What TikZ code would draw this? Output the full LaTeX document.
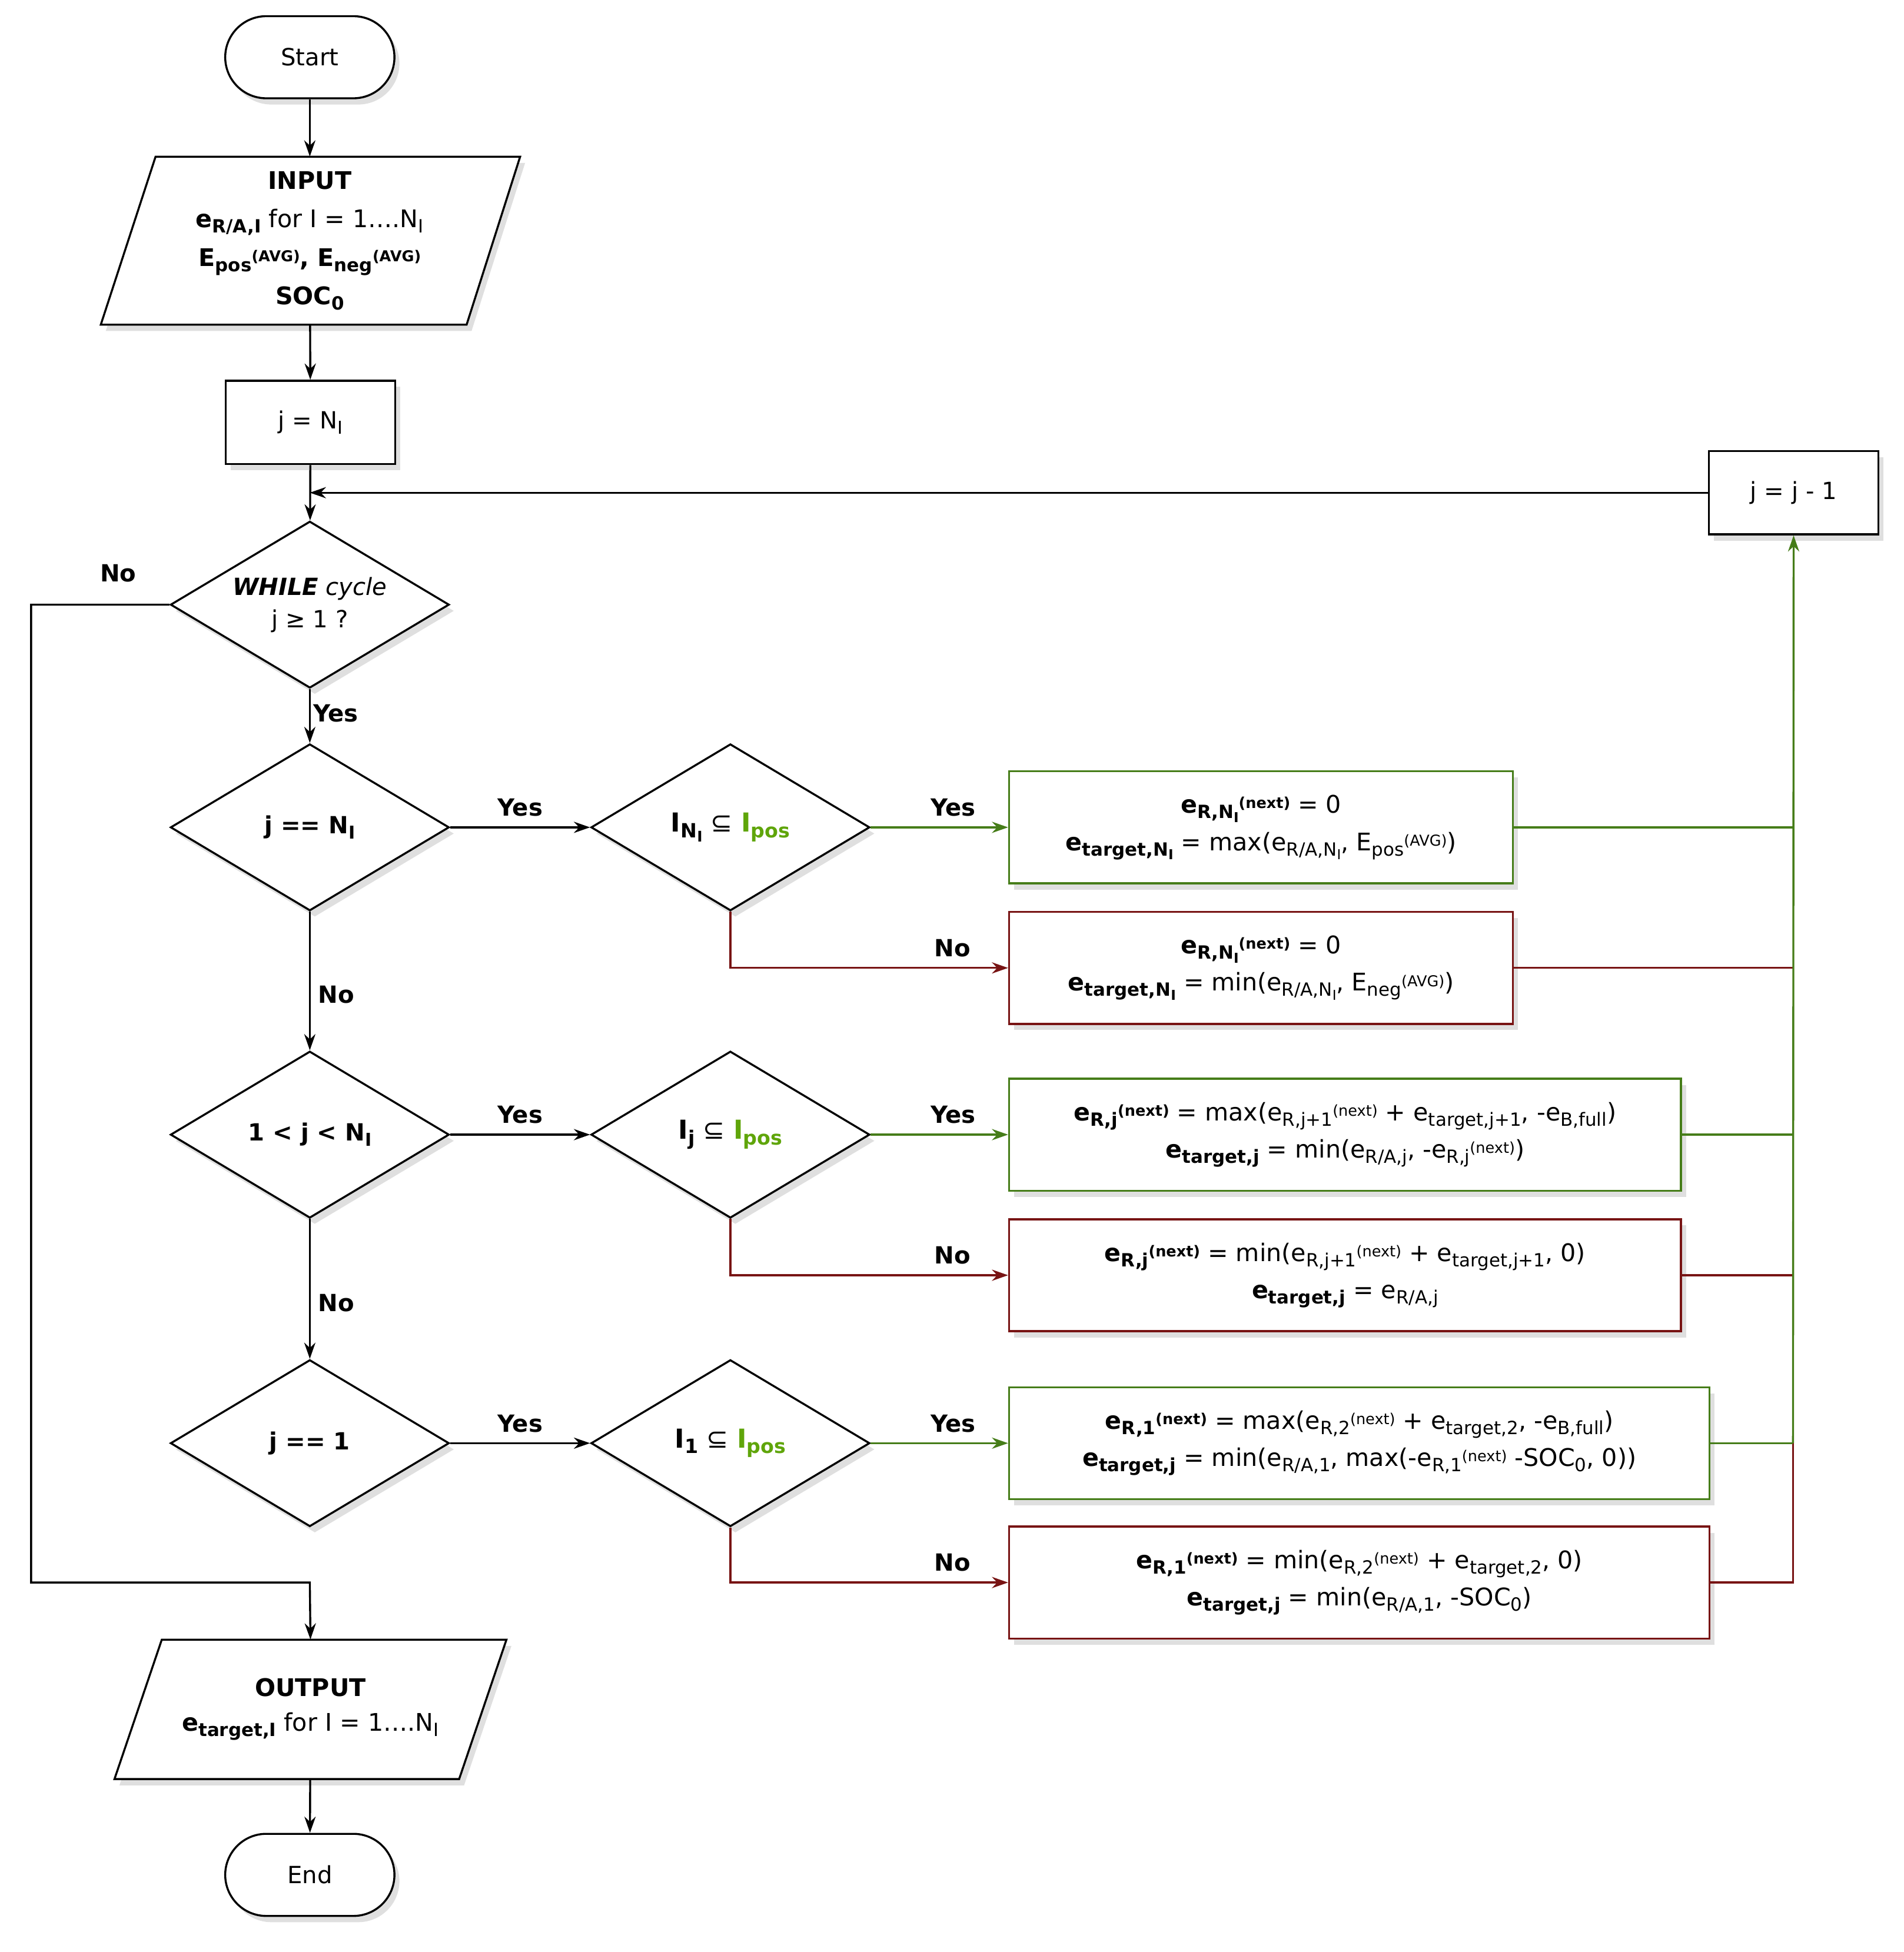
\documentclass[tikz,border=0pt]{standalone}
\usepackage{fontspec}
\setmainfont{DejaVu Sans}
\usetikzlibrary{shapes.geometric,arrows.meta,shadows}
\definecolor{gr}{RGB}{70,125,25}
\definecolor{rd}{RGB}{120,20,20}
\definecolor{lg}{RGB}{95,165,10}
\newcommand\lo[1]{\raisebox{-0.4ex}{\scalebox{0.75}{#1}}}
\newcommand\hi[1]{\raisebox{0.35ex}{\scalebox{0.62}{#1}}}
\begin{document}
\begin{tikzpicture}[x=1pt,y=1pt,
  font=\fontsize{19}{24}\selectfont,
  ln/.style={line width=1.6pt},
  arr/.style={ln,-{Stealth[length=13pt,width=9pt]}},
  shd/.style={drop shadow={opacity=0.25,shadow xshift=4pt,shadow yshift=-5pt}},
  term/.style={draw,ln,rounded corners=33pt,minimum width=136pt,minimum height=66pt,shd,fill=white},
  box/.style={draw,ln,minimum width=136pt,minimum height=67pt,shd,fill=white},
  dia/.style={draw,ln,diamond,inner sep=0pt,minimum width=224pt,minimum height=134pt,shd,fill=white},
  fbox/.style={ln,minimum height=90pt,shd,fill=white,align=center,font=\fontsize{19.5}{30}\selectfont},
  gbox/.style={fbox,draw=gr},
  rbox/.style={fbox,draw=rd},
  lab/.style={font=\fontsize{19}{24}\selectfont\bfseries}]
\useasboundingbox (0,0) rectangle (1530,-1569);
% terminals
\node[term] (start) at (249,-46) {Start};
\node[term] (end) at (249,-1507) {End};
% input parallelogram
\draw[ln,shd,fill=white] (125,-126) -- (418,-126) -- (375,-261) -- (81,-261) -- cycle;
\node[minimum width=250pt,minimum height=135pt,align=center,inner sep=0pt,font=\fontsize{19.5}{31}\selectfont] (inp) at (249,-193.5)
 {\textbf{INPUT}\\ \textbf{e\lo{R/A,I}} for I = 1….N\lo{I}\\ \textbf{E\lo{pos}\hi{(AVG)}, E\lo{neg}\hi{(AVG)}}\\ \textbf{SOC\lo{0}}};
\node[box] (jn) at (249.5,-339.5) {j = N\lo{I}};
\node[box] (jm) at (1441.5,-396) {j = j - 1};
\coordinate (jun) at (249,-396);
\node[dia] (wh) at (249,-486) {};
\node[align=center,font=\fontsize{19}{26}\selectfont] at (wh) {\textbf{\textit{WHILE}} \textit{cycle}\\ j ≥ 1 ?};
\node[dia] (d1) at (249,-665) {};
\node at (d1) {\textbf{j == N\lo{I}}};
\node[dia] (d2) at (249,-912) {};
\node at (d2) {\textbf{1 < j < N\lo{I}}};
\node[dia] (d3) at (249,-1160) {};
\node at (d3) {\textbf{j == 1}};
\node[dia] (c1) at (587,-665) {};
\node[font=\fontsize{21}{24}\selectfont] at (c1) {\textbf{I\lo{N\lo{I}}} ⊆ \textcolor{lg}{\textbf{I\lo{pos}}}};
\node[dia] (c2) at (587,-912) {};
\node[font=\fontsize{21}{24}\selectfont] at (c2) {\textbf{I\lo{j}} ⊆ \textcolor{lg}{\textbf{I\lo{pos}}}};
\node[dia] (c3) at (587,-1160) {};
\node[font=\fontsize{21}{24}\selectfont] at (c3) {\textbf{I\lo{1}} ⊆ \textcolor{lg}{\textbf{I\lo{pos}}}};
% formula boxes
\node[gbox,minimum width=405pt] (g1) at (1013.5,-665) {\textbf{e\lo{R,N\lo{I}}\hi{(next)}} = 0\\ \textbf{e\lo{target,N\lo{I}}} = max(e\lo{R/A,N\lo{I}}, E\lo{pos}\hi{(AVG)})};
\node[rbox,minimum width=405pt] (r1) at (1013.5,-778) {\textbf{e\lo{R,N\lo{I}}\hi{(next)}} = 0\\ \textbf{e\lo{target,N\lo{I}}} = min(e\lo{R/A,N\lo{I}}, E\lo{neg}\hi{(AVG)})};
\node[gbox,minimum width=540pt] (g2) at (1081,-912) {\textbf{e\lo{R,j}\hi{(next)}} = max(e\lo{R,j+1}\hi{(next)} + e\lo{target,j+1}, -e\lo{B,full})\\ \textbf{e\lo{target,j}} = min(e\lo{R/A,j}, -e\lo{R,j}\hi{(next)})};
\node[rbox,minimum width=540pt] (r2) at (1081,-1025) {\textbf{e\lo{R,j}\hi{(next)}} = min(e\lo{R,j+1}\hi{(next)} + e\lo{target,j+1}, 0)\\ \textbf{e\lo{target,j}} = e\lo{R/A,j}};
\node[gbox,minimum width=563pt] (g3) at (1092.5,-1160) {\textbf{e\lo{R,1}\hi{(next)}} = max(e\lo{R,2}\hi{(next)} + e\lo{target,2}, -e\lo{B,full})\\ \textbf{e\lo{target,j}} = min(e\lo{R/A,1}, max(-e\lo{R,1}\hi{(next)} -SOC\lo{0}, 0))};
\node[rbox,minimum width=563pt] (r3) at (1092.5,-1272) {\textbf{e\lo{R,1}\hi{(next)}} = min(e\lo{R,2}\hi{(next)} + e\lo{target,2}, 0)\\ \textbf{e\lo{target,j}} = min(e\lo{R/A,1}, -SOC\lo{0})};
% output parallelogram
\draw[ln,shd,fill=white] (130,-1318) -- (407,-1318) -- (369,-1430) -- (92,-1430) -- cycle;
\node[minimum width=240pt,minimum height=112pt,align=center,inner sep=0pt,font=\fontsize{19.5}{28}\selectfont] (out) at (249.5,-1374)
 {\textbf{OUTPUT}\\ \textbf{e\lo{target,I}} for I = 1….N\lo{I}};
% main flow
\draw[arr] (start) -- (inp);
\draw[arr] (inp) -- (jn);
\draw[arr] (jn) -- (wh);
\draw[arr] (jm) -- (jun);
\draw[arr] (wh) -- node[lab,right,pos=0.45,inner sep=2pt] {Yes} (d1);
\draw[arr] (d1) -- node[lab,right,inner sep=6pt,pos=0.6] {No} (d2);
\draw[arr] (d2) -- node[lab,right,inner sep=6pt,pos=0.6] {No} (d3);
\coordinate (nb) at (25,-1272);
\draw[arr] (wh.west) -- (25,-486) -- (nb) -- (249,-1272) -- (out.north);
\node[lab] at (95,-461) {No};
\draw[arr] (out) -- (end);
\foreach \d/\c in {d1/c1,d2/c2,d3/c3}{
  \draw[arr] (\d.east) -- node[lab,above,inner sep=8pt] {Yes} (\c.west);}
\foreach \c/\g/\r in {c1/g1/r1,c2/g2/r2,c3/g3/r3}{
  \draw[arr,gr] (\c.east) -- node[lab,above,black,inner sep=8pt,pos=0.6] {Yes} (\g.west);
  \draw[arr,rd] (\c.south) |- node[lab,above,black,inner sep=8pt,pos=0.9] {No} (\r.west);}
% return lines
\draw[ln,rd] (r3.east) -| (1441,-1160);
\draw[ln,rd] (r1.east) -- (1441,-778);
\draw[ln,rd] (r2.east) -- (1441,-1025);
\draw[ln,gr] (g1.east) -- (1441,-665);
\draw[ln,gr] (g2.east) -- (1441,-912);
\draw[ln,gr] (g3.east) -- (1441,-1160);
\draw[arr,gr] (1441,-1160) -- (jm.south);
\end{tikzpicture}
\end{document}
